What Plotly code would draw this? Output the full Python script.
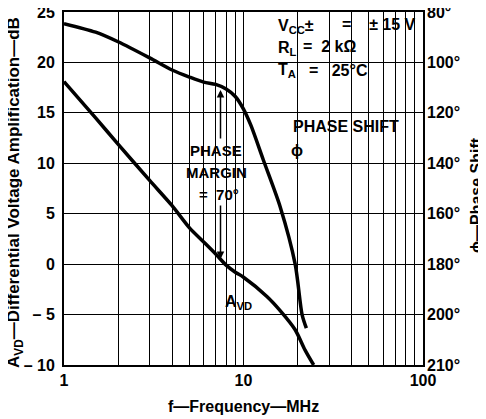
import plotly.graph_objects as go

# Differential voltage amplification (dB) vs frequency (MHz)
avd_freq = [1, 1.5, 2, 3, 4, 5, 6, 7, 8, 9, 10, 13.5, 16, 19.4, 22, 24.6]
avd_db = [18.1, 14.5, 11.9, 8.3, 5.8, 3.6, 2.2, 1.0, -0.1, -0.8, -1.3, -3.2, -4.6, -6.5, -8.5, -10]

# Phase shift (degrees) vs frequency (MHz)
phase_freq = [1, 1.5, 2, 3, 4, 5, 6, 7, 8, 9, 10, 11, 12.9, 16, 19.4, 21.2, 22.4]
phase_deg = [84.6, 88, 91.8, 98.2, 103, 105.8, 107.8, 108.7, 110.5, 113.5, 118.5, 125, 138.7, 157.2, 180, 200, 205.4]

# axes
grid_freq = [1, 2, 3, 4, 5, 6, 7, 8, 9, 10, 20, 30, 40, 50, 60, 70, 80, 90, 100]
grid_freq_text = ["1", "", "", "", "", "", "", "", "", "10", "", "", "", "", "", "", "", "", "100"]
db_ticks = [-10, -5, 0, 5, 10, 15, 20, 25]
db_text = ["\u2013 10", "\u2013 5", "0", "5", "10", "15", "20", "25"]
phase_ticks = [80, 100, 120, 140, 160, 180, 200, 220]
phase_text = ["80°", "100°", "120°", "140°", "160°", "180°", "200°", "210°"]

FONT = "Liberation Sans, Arial, Helvetica, sans-serif"
NB = "\u00a0"

# the page body adds an 8 px margin, so the figure is sized to the rest of the window
W, H = 478, 411
L, R, T, B = 56, 63, 4, 54


def px(x, y):
    # window pixel -> paper coordinates of the plot area (64..423, 12..365)
    return (x - 64) / 359, (365 - y) / 353


def lab(text, x, y, size=15, anchor="center"):
    xp, yp = px(x, y)
    return dict(text=text, xref="paper", yref="paper", x=xp, y=yp,
                xanchor=anchor, yanchor="middle", showarrow=False,
                font=dict(size=size))


def blank(x0, y0, x1, y1):
    a0, b1 = px(x0, y0)
    a1, b0 = px(x1, y1)
    return dict(type="rect", xref="paper", yref="paper", x0=a0, x1=a1, y0=b0, y1=b1,
                fillcolor="white", line=dict(width=0), layer="between")


def arrow(x, y_tail, y_head):
    xp, yh = px(x, y_head)
    return dict(text="", xref="paper", yref="paper", x=xp, y=yh,
                ax=0, ay=y_tail - y_head, showarrow=True, arrowhead=2,
                arrowsize=1, arrowwidth=1.5, arrowcolor="black")


fig = go.Figure()
fig.add_trace(go.Scatter(
    x=avd_freq, y=avd_db, mode="lines",
    line=dict(color="black", width=3.5, shape="spline", smoothing=0.8),
    showlegend=False, hoverinfo="skip",
))
fig.add_trace(go.Scatter(
    x=phase_freq, y=phase_deg, mode="lines", yaxis="y2",
    line=dict(color="black", width=3.5, shape="spline", smoothing=0.8),
    showlegend=False, hoverinfo="skip",
))

fig.update_layout(
    width=W, height=H,
    margin=dict(l=L, r=R, t=T, b=B, autoexpand=False),
    plot_bgcolor="white", paper_bgcolor="white",
    font=dict(family=FONT, size=15, color="black", weight="bold"),
    xaxis=dict(
        type="log", range=[0, 2], automargin=False,
        tickvals=grid_freq, ticktext=grid_freq_text,
        showgrid=True, gridcolor="black", gridwidth=1.3,
        showline=True, linecolor="black", linewidth=2, mirror=True,
        ticks="", ticklen=0, ticklabelstandoff=0, zeroline=False,
        tickfont=dict(size=16), ticklabeloverflow="allow",
    ),
    yaxis=dict(
        range=[-10, 25], tickvals=db_ticks, ticktext=db_text, automargin=False,
        showgrid=True, gridcolor="black", gridwidth=1.3,
        showline=True, linecolor="black", linewidth=2, mirror=True,
        ticks="", ticklen=0, ticklabelstandoff=4, zeroline=False,
        tickfont=dict(size=16), ticklabeloverflow="allow",
    ),
    yaxis2=dict(
        overlaying="y", side="right", range=[220, 80], automargin=False,
        tickvals=phase_ticks, ticktext=phase_text,
        showgrid=False, showline=False, zeroline=False,
        ticks="", ticklen=0, ticklabelstandoff=3,
        tickfont=dict(size=16), ticklabeloverflow="allow",
    ),
)

shapes = [
    blank(273, 14, 421, 82),    # test conditions
    blank(289, 117, 420, 161),  # PHASE SHIFT
    blank(184, 141, 250, 203),  # PHASE MARGIN
    blank(219, 289, 259, 314),  # AVD
]

annotations = [
    # axis titles
    dict(lab("A<sub>VD</sub>\u2014Differential Voltage Amplification\u2014dB", 15, 193, 17),
         textangle=-90),
    dict(lab("\u03d5\u2014Phase Shift", 477, 195, 16), textangle=-90),
    lab("f\u2014Frequency\u2014MHz", 243, 406, 16),
    # test conditions
    lab("V<sub>CC</sub>\u00b1", 276, 26, 16, "left"),
    lab("=" + NB * 4 + "\u00b1" + NB + "15" + NB + "V", 340, 25, 16, "left"),
    lab("R<sub>L</sub>", 276, 48, 16, "left"),
    lab("=" + NB * 2 + "2" + NB + "k\u03a9", 301, 47, 16, "left"),
    lab("T<sub>A</sub>", 276, 71, 16, "left"),
    lab("=" + NB * 3 + "25°C", 307, 70, 16, "left"),
    # phase shift label
    lab("PHASE SHIFT", 291, 126, 16, "left"),
    lab("\u03d5", 297, 150, 16),
    # phase margin label
    lab("PHASE", 216, 150, 15),
    lab("MARGIN", 216, 173, 15),
    lab("=" + NB * 2 + "70°", 219, 195, 15),
    # AVD label
    lab("A<sub>VD</sub>", 238, 302, 16),
    # arrows
    arrow(220.5, 140, 90),
    arrow(220.5, 204, 259),
]
fig.update_layout(shapes=shapes, annotations=annotations)

fig.write_html("out.html")
